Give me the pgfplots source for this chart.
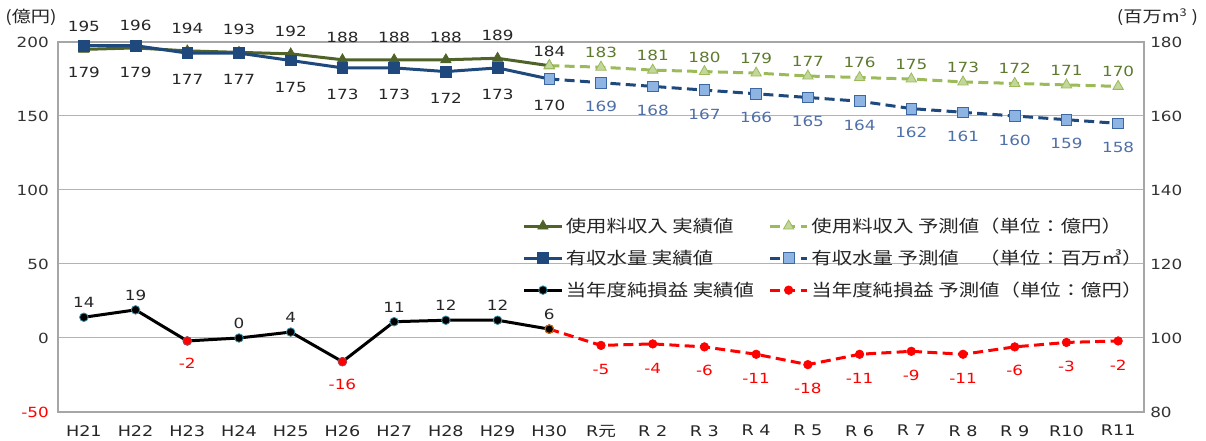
\documentclass[border=0pt]{standalone}
\usepackage{pgfplots}
\pgfplotsset{compat=1.18}
\usepackage{fontspec}
\setmainfont[FakeStretch=1.2]{DejaVu Sans}
\newfontfamily\cjk[FakeStretch=1.2]{Noto Sans CJK JP}
\definecolor{revA}{HTML}{4F6228}
\definecolor{revF}{HTML}{9BBB59}
\definecolor{revFfill}{HTML}{C3D69B}
\definecolor{revFlab}{HTML}{5E7A2E}
\definecolor{watA}{HTML}{1F497D}
\definecolor{watFfill}{HTML}{8DB4E2}
\definecolor{watFedge}{HTML}{3C67A0}
\definecolor{watFlab}{HTML}{4F6FA8}
\definecolor{netedge}{HTML}{3A8FA8}
\definecolor{gridgray}{HTML}{B3B3B3}
\definecolor{axisgray}{HTML}{A6A6A6}
\definecolor{tickcol}{HTML}{333333}
\definecolor{labdark}{HTML}{262626}
\pgfplotsset{
  common/.style={
    at={(0,0)}, anchor=south west, scale only axis,
    width=814.5pt, height=277.5pt,
    xmin=-0.5, xmax=20.5,
    major tick length=0pt,
    axis line style={draw=axisgray, line width=0.9pt},
    /pgf/number format/assume math mode=true,
    /pgf/number format/fixed,
    /pgf/number format/precision=0,
    yticklabel style={font=\fontsize{10.5}{12}\selectfont, text=tickcol, inner sep=0pt},
    legend image code/.code={\draw[mark repeat=2,mark phase=2,##1] plot coordinates {(0pt,0pt)(14pt,0pt)(28pt,0pt)};},
  },
  revAst/.style={color=revA, line width=2.25pt, mark=triangle*, mark size=4.5pt, mark options={solid, fill=revA, draw=revA, line width=0.5pt}},
  revFst/.style={color=revF, line width=2.25pt, dash pattern=on 7.5pt off 4pt, mark=triangle*, mark size=4.5pt, mark options={solid, fill=revFfill, draw=revF, line width=0.6pt}},
  watAst/.style={color=watA, line width=2.25pt, mark=square*, mark size=4pt, mark options={solid, fill=watA, draw=watA, line width=0.5pt}},
  watFst/.style={color=watA, line width=2.25pt, dash pattern=on 7.5pt off 4pt, mark=square*, mark size=4pt, mark options={solid, fill=watFfill, draw=watFedge, line width=0.6pt}},
  netAst/.style={color=black, line width=2.25pt, mark=*, mark size=3.2pt, mark options={solid, fill=black, draw=netedge, line width=0.6pt}},
  netFst/.style={color=red, line width=2.25pt, dash pattern=on 7.5pt off 4pt, mark=*, mark size=3.2pt, mark options={solid, fill=red, draw=red, line width=0.5pt}},
  lab/.style={draw=none, mark=none, forget plot, nodes near coords, point meta=y,
    nodes near coords style={font=\fontsize{10.5}{12}\selectfont, text=#1, anchor=center}},
}
\begin{document}
\begin{tikzpicture}
\path[use as bounding box] (-43.5pt,-21.75pt) rectangle (861pt,309pt);
\begin{axis}[common,
  ymin=-50, ymax=200,
  ytick={-50,0,50,100,150,200},
  yticklabels={\textcolor{red}{-50},0,50,100,150,200},
  yticklabel style={xshift=-6.75pt},
  ymajorgrids, grid style={draw=gridgray, line width=0.75pt},
  xtick={0,...,20},
  xticklabels={H21,H22,H23,H24,H25,H26,H27,H28,H29,H30,R{\cjk 元},R 2,R 3,R 4,R 5,R 6,R 7,R 8,R 9,R10,R11},
  xticklabel style={font=\fontsize{11}{12}\selectfont, text=labdark, inner sep=0pt, anchor=north, yshift=-9.75pt},
]
% revenue
\addplot[revAst] coordinates {(0,195)(1,196)(2,194)(3,193)(4,192)(5,188)(6,188)(7,188)(8,189)(9,184)};
\addplot[revFst] coordinates {(9,184)(10,183)(11,181)(12,180)(13,179)(14,177)(15,176)(16,175)(17,173)(18,172)(19,171)(20,170)};
\addplot[lab=labdark, nodes near coords style={yshift=17pt}] coordinates {(0,195)(1,196)(2,194)(3,193)(4,192)(5,188)(6,188)(7,188)(8,189)};
\addplot[lab=labdark, nodes near coords style={yshift=11pt}] coordinates {(9,184)};
\addplot[lab=revFlab, nodes near coords style={yshift=11pt}] coordinates {(10,183)(11,181)(12,180)(13,179)(14,177)(15,176)(16,175)(17,173)(18,172)(19,171)(20,170)};
% net profit
\addplot[netAst] coordinates {(0,14)(1,19)(2,-2)(3,0)(4,4)(5,-16)(6,11)(7,12)(8,12)(9,6)};
\addplot[netFst] coordinates {(9,6)(10,-5)(11,-4)(12,-6)(13,-11)(14,-18)(15,-11)(16,-9)(17,-11)(18,-6)(19,-3)(20,-2)};
\addplot[only marks, forget plot, mark=*, mark size=3.2pt, mark options={fill=red, draw=red!60!netedge, line width=0.6pt}] coordinates {(2,-2)(5,-16)};
\addplot[only marks, forget plot, mark=*, mark size=3.2pt, mark options={fill=black, draw=orange!80!black, line width=0.8pt}] coordinates {(9,6)};
\addplot[lab=labdark, nodes near coords style={yshift=11pt}] coordinates {(0,14)(1,19)(3,0)(4,4)(6,11)(7,12)(8,12)(9,6)};
\addplot[lab=red, nodes near coords style={yshift=-17pt}] coordinates {(2,-2)(5,-16)};
\addplot[lab=red, nodes near coords style={yshift=-18pt}] coordinates {(10,-5)(11,-4)(12,-6)(13,-11)(14,-18)(15,-11)(16,-9)(17,-11)(18,-6)(19,-3)(20,-2)};
\end{axis}
\begin{axis}[common,
  ymin=80, ymax=180,
  hide x axis, axis y line*=right,
  ytick={80,100,...,180},
  yticklabel style={xshift=4.5pt},
  legend columns=2,
  legend cell align=left,
  legend style={draw=none, fill=none, inner sep=0pt, outer sep=0pt,
    at={(0.428,0.532)}, anchor=north west,
    font=\cjk\fontsize{12.75}{15}\selectfont, text=labdark,
    row sep=7.5pt},
]
\addlegendimage{revAst}
\addlegendentry{使用料収入 実績値}
\addlegendimage{revFst}
\addlegendentry{使用料収入 予測値（単位：億円）}
\addplot[watAst] coordinates {(0,179)(1,179)(2,177)(3,177)(4,175)(5,173)(6,173)(7,172)(8,173)(9,170)};
\addlegendentry{有収水量 実績値}
\addplot[watFst] coordinates {(9,170)(10,169)(11,168)(12,167)(13,166)(14,165)(15,164)(16,162)(17,161)(18,160)(19,159)(20,158)};
\addlegendentry{有収水量 予測値　（単位：百万㎥）}
\addlegendimage{netAst}
\addlegendentry{\makebox[150pt][l]{当年度純損益 実績値}}
\addlegendimage{netFst}
\addlegendentry{当年度純損益 予測値（単位：億円）}
\addplot[lab=labdark, nodes near coords style={yshift=-20pt}] coordinates {(0,179)(1,179)(2,177)(3,177)(4,175)(5,173)(6,173)(7,172)(8,173)(9,170)};
\addplot[lab=watFlab, nodes near coords style={yshift=-18pt}] coordinates {(10,169)(11,168)(12,167)(13,166)(14,165)(15,164)(16,162)(17,161)(18,160)(19,159)(20,158)};
\end{axis}
\node[font=\cjk\fontsize{12}{14}\selectfont, text=labdark] at (-20.25pt,296.25pt) {(億円)};
\node[font=\cjk\fontsize{12}{14}\selectfont, text=labdark] at (824.6pt,296.25pt) {(百万m\textsuperscript{3} )};
\end{tikzpicture}
\end{document}
